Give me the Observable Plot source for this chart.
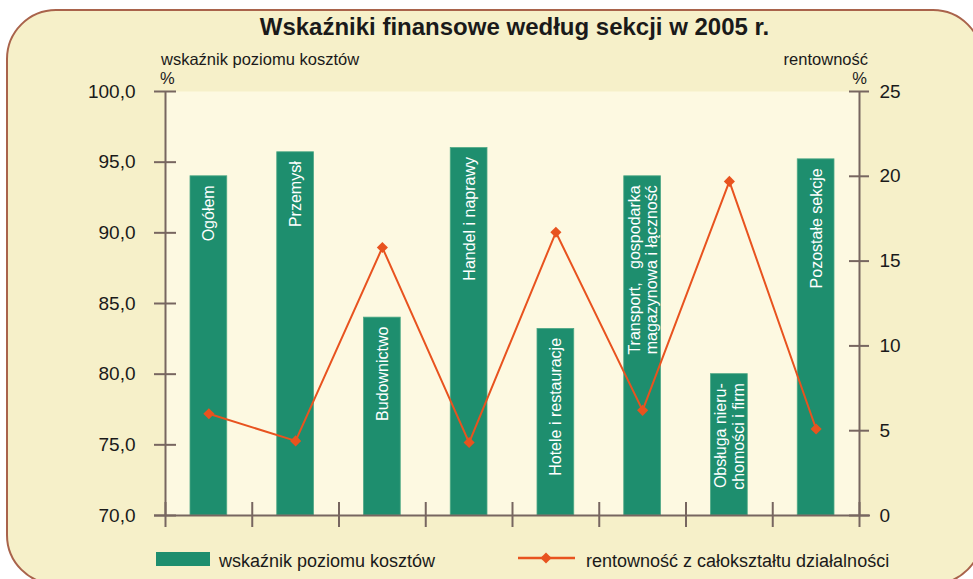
<!DOCTYPE html>
<html>
<head>
<meta charset="utf-8">
<script src="https://cdn.jsdelivr.net/npm/d3@7"></script>
<script src="https://cdn.jsdelivr.net/npm/@observablehq/plot@0.6"></script>
<style>
  body { margin: 0; background: #ffffff; font-family: "Liberation Sans", Arial, sans-serif; }
  #wrap { position: relative; width: 973px; height: 579px; overflow: hidden; }
  #frame { position: absolute; left: 6px; top: 9px; width: 977px; height: 576px; box-sizing: border-box;
           border: 2.5px solid #a9634b; border-radius: 50px; background: #f6f0c9; }
  #chart, #overlay { position: absolute; left: 0; top: 0; }
</style>
</head>
<body>
<div id="wrap">
  <div id="frame"></div>
  <div id="chart"></div>
  <svg id="overlay" width="973" height="579"></svg>
</div>
<script>
const categories = [
  "Ogółem",
  "Przemysł",
  "Budownictwo",
  "Handel i naprawy",
  "Hotele i restauracje",
  "Transport,\u00a0\u00a0 gospodarka\nmagazynowa i łączność",
  "Obsługa nieru-\nchomości i firm",
  "Pozostałe sekcje"
];
const kosztyValues = [94.0, 95.7, 84.0, 96.0, 83.2, 94.0, 80.0, 95.2];
const rentownoscValues = [6.0, 4.4, 15.8, 4.3, 16.7, 6.2, 19.7, 5.1];
const leftTicks = [70, 75, 80, 85, 90, 95, 100];
const rightTicks = [0, 5, 10, 15, 20, 25];

const title = "Wskaźniki finansowe według sekcji w 2005 r.";
const leftAxisTitle = "wskaźnik poziomu kosztów";
const rightAxisTitle = "rentowność";
const unit = "%";
const legendBars = "wskaźnik poziomu kosztów";
const legendLine = "rentowność z całokształtu działalności";

const leftDomain = [70, 100];
const rightDomain = [0, 25];
const toLeft = v => leftDomain[0] + (v - rightDomain[0]) * (leftDomain[1] - leftDomain[0]) / (rightDomain[1] - rightDomain[0]);
const fmtLeft = d => d3.format(".1f")(d).replace(".", ",");

const data = categories.map((c, i) => ({i, category: c, koszty: kosztyValues[i], rent: rentownoscValues[i]}));
const boundaries = d3.range(0, categories.length + 1);

const FONT = '"Liberation Sans", Arial, sans-serif';
const axisColor = "#776660";
const barColor = "#1e8e6e";
const lineColor = "#e8531f";

const chart = Plot.plot({
  width: 973,
  height: 579,
  marginLeft: 165,
  marginRight: 114,
  marginTop: 91,
  marginBottom: 64,
  x: {type: "linear", domain: [0, categories.length], axis: null},
  y: {domain: leftDomain, axis: null},
  style: {background: "transparent", overflow: "visible", fontFamily: FONT},
  marks: [
    Plot.frame({fill: "#fdf9e1", stroke: "none"}),
    Plot.rect(data, {x1: d => d.i, x2: d => d.i + 1, y1: leftDomain[0], y2: d => d.koszty,
      insetLeft: 25, insetRight: 25, fill: barColor, stroke: "#4fa985", strokeWidth: 0.8}),
    Plot.text(data, {x: d => d.i + 0.5, y: d => d.koszty, text: d => d.category, rotate: -90,
      textAnchor: "end", lineAnchor: "middle", dy: 9, fill: "white", fontSize: 16, lineHeight: 1.08}),
    // axes
    Plot.ruleX([0, categories.length], {y1: leftDomain[0], y2: leftDomain[1], stroke: axisColor, strokeWidth: 2}),
    Plot.ruleX(boundaries, {x: d => d, y1: leftDomain[0], y2: leftDomain[0], insetTop: -13, insetBottom: -12, stroke: axisColor, strokeWidth: 2}),
    Plot.ruleY([leftDomain[0]], {x1: 0, x2: categories.length, insetLeft: -11, insetRight: -11, stroke: axisColor, strokeWidth: 2}),
    Plot.ruleY(leftTicks, {y: d => d, x1: 0, x2: 0, insetLeft: -11, insetRight: -11, stroke: axisColor, strokeWidth: 2}),
    Plot.ruleY(rightTicks, {y: d => toLeft(d), x1: categories.length, x2: categories.length, insetLeft: -10, insetRight: -10, stroke: axisColor, strokeWidth: 2}),
    Plot.text(leftTicks, {x: 0, y: d => d, text: fmtLeft, textAnchor: "end", dx: -30, fontSize: 19, fill: "#1a1a1a"}),
    Plot.text(rightTicks, {x: categories.length, y: d => toLeft(d), text: d => String(d), textAnchor: "start", dx: 20, fontSize: 19, fill: "#1a1a1a"}),
    // line series
    Plot.line(data, {x: d => d.i + 0.5, y: d => toLeft(d.rent), stroke: lineColor, strokeWidth: 2}),
    Plot.dot(data, {x: d => d.i + 0.5, y: d => toLeft(d.rent), symbol: "diamond2", r: 5, fill: lineColor, stroke: "none"})
  ]
});
document.getElementById("chart").appendChild(chart);

// titles and legend
const ov = d3.select("#overlay").style("font-family", FONT);
ov.append("text").attr("x", 514.5).attr("y", 35).attr("text-anchor", "middle")
  .attr("font-size", 24).attr("font-weight", "bold").attr("fill", "#1a1a1a").text(title);
ov.append("text").attr("x", 161).attr("y", 65).attr("font-size", 16.5).attr("fill", "#1a1a1a").text(leftAxisTitle);
ov.append("text").attr("x", 160).attr("y", 84).attr("font-size", 16.5).attr("fill", "#1a1a1a").text(unit);
ov.append("text").attr("x", 868).attr("y", 65).attr("text-anchor", "end").attr("font-size", 16.5).attr("fill", "#1a1a1a").text(rightAxisTitle);
ov.append("text").attr("x", 867).attr("y", 84).attr("text-anchor", "end").attr("font-size", 16.5).attr("fill", "#1a1a1a").text(unit);

ov.append("rect").attr("x", 156).attr("y", 552).attr("width", 54).attr("height", 14).attr("fill", barColor);
ov.append("text").attr("x", 219).attr("y", 567).attr("font-size", 18).attr("fill", "#1a1a1a").text(legendBars);
ov.append("line").attr("x1", 518).attr("x2", 575).attr("y1", 558).attr("y2", 558).attr("stroke", lineColor).attr("stroke-width", 2.5);
ov.append("path").attr("transform", "translate(546,558)").attr("d", d3.symbol(d3.symbolDiamond2, Math.PI * 25)()).attr("fill", lineColor);
ov.append("text").attr("x", 586).attr("y", 567).attr("font-size", 18).attr("fill", "#1a1a1a").text(legendLine);
</script>
</body>
</html>
